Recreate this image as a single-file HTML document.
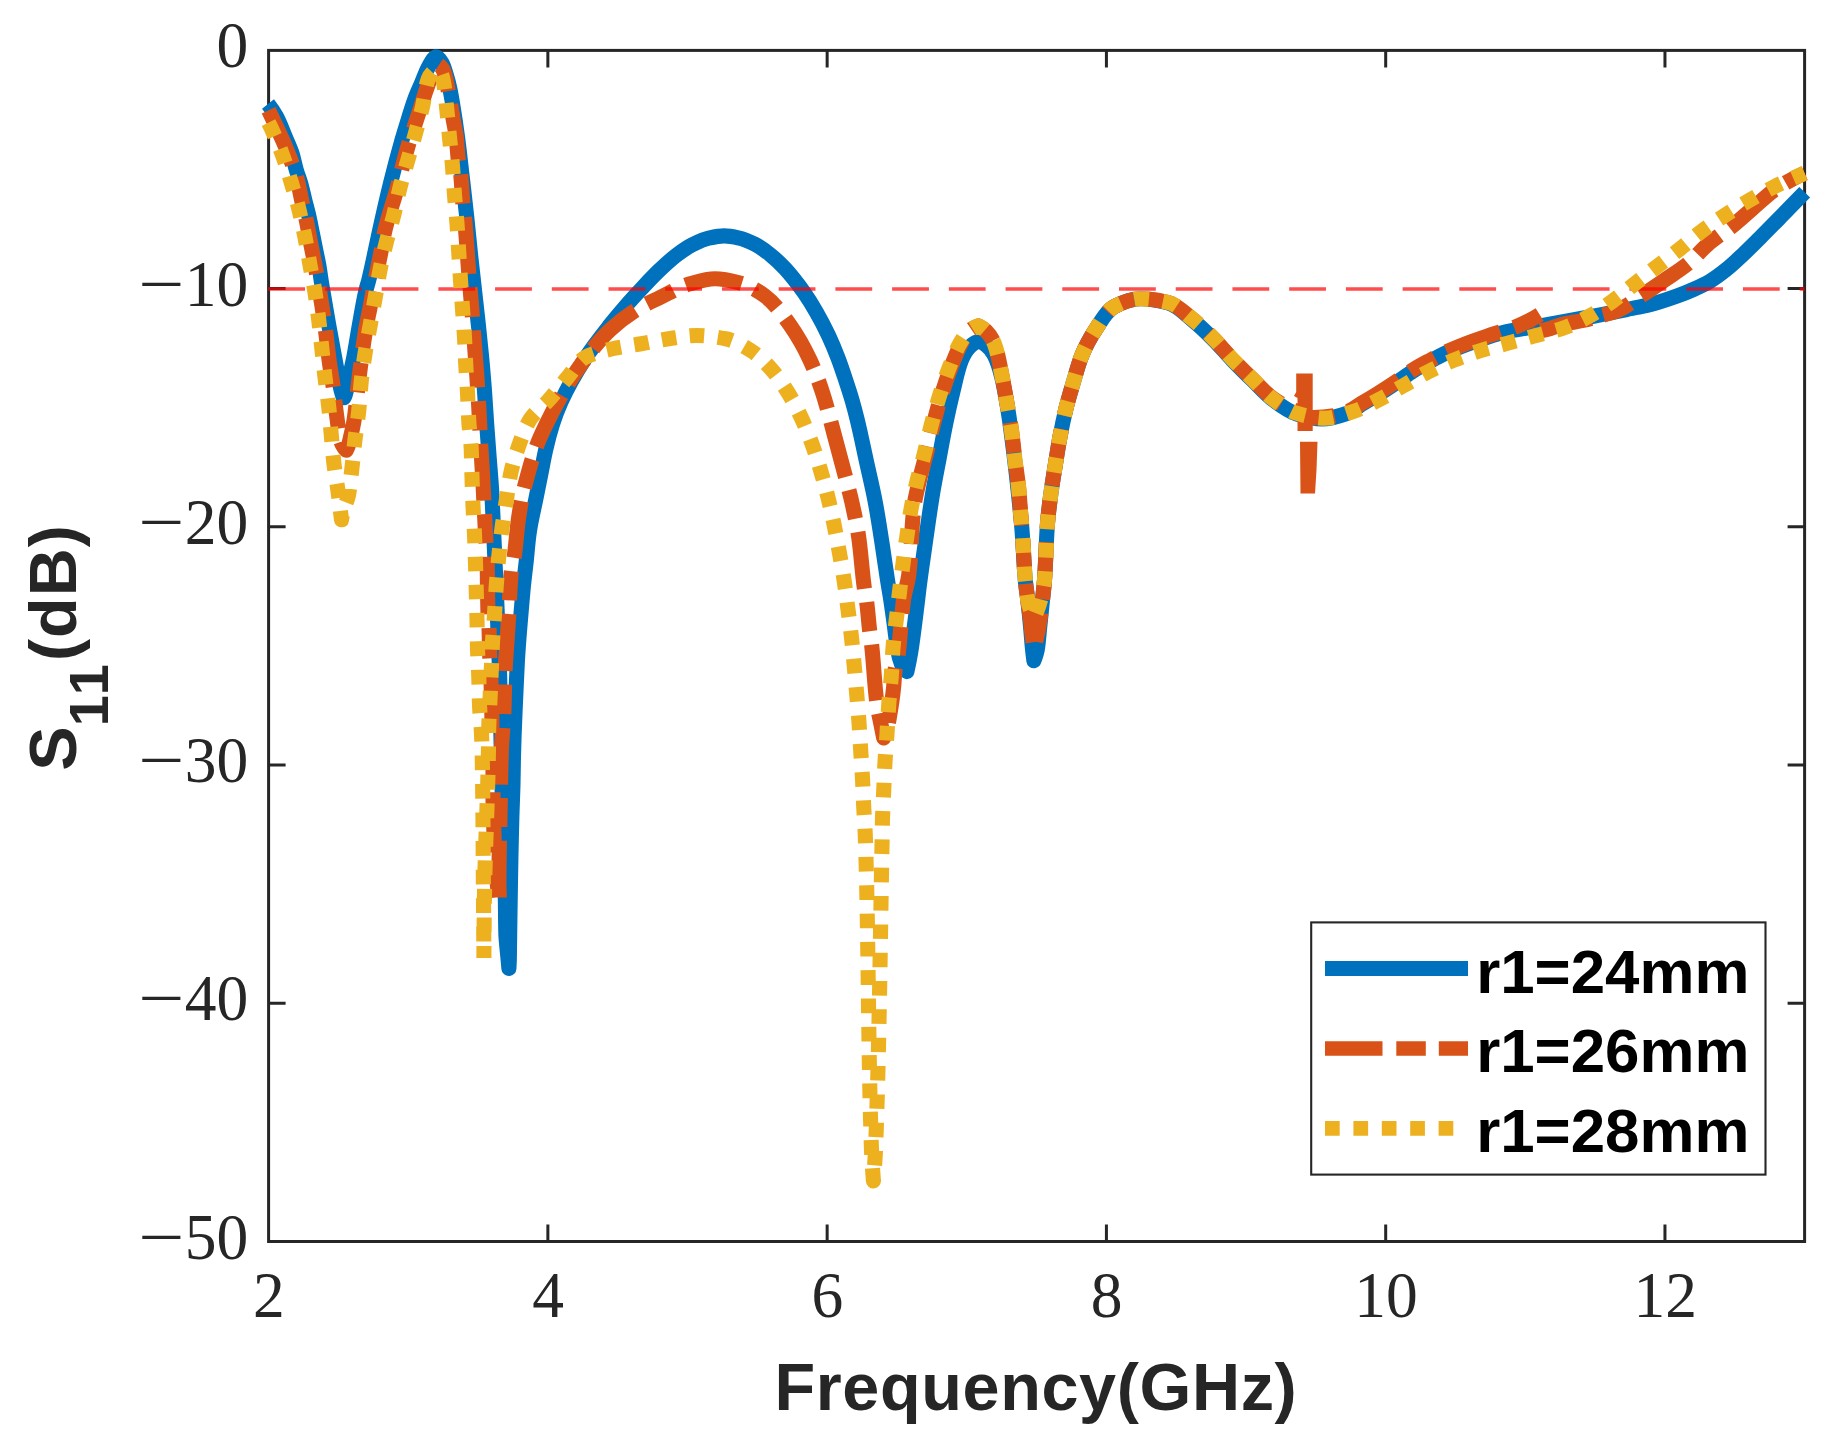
<!DOCTYPE html><html><head><meta charset="utf-8"><title>S11</title><style>html,body{margin:0;padding:0;background:#fff}svg{display:block}</style></head><body>
<svg width="1843" height="1448" viewBox="0 0 1843 1448">
<rect width="1843" height="1448" fill="#fff"/>
<defs><clipPath id="ax"><rect x="258.6" y="49.1" width="1556.0" height="1193.6999999999998"/></clipPath></defs>
<rect x="268.6" y="50.4" width="1536.0" height="1191.1" fill="none" stroke="#262626" stroke-width="3.0"/>
<path d="M547.87,1241.5 v-17 M547.87,50.4 v17 M827.15,1241.5 v-17 M827.15,50.4 v17 M1106.42,1241.5 v-17 M1106.42,50.4 v17 M1385.69,1241.5 v-17 M1385.69,50.4 v17 M1664.96,1241.5 v-17 M1664.96,50.4 v17 M268.6,1003.28 h17 M1804.6,1003.28 h-17 M268.6,765.06 h17 M1804.6,765.06 h-17 M268.6,526.84 h17 M1804.6,526.84 h-17 M268.6,288.62 h17 M1804.6,288.62 h-17" stroke="#262626" stroke-width="3.0" fill="none"/>
<g clip-path="url(#ax)" fill="none">
<path d="M268,104 C271.16,108.05 274.11,112.27 276.5,116.7 C279.91,123.02 282.38,130 285.2,136.7 C287.52,142.21 290.2,147.64 292,153.3 C293.73,158.74 294.7,164.49 296.3,170 C297.6,174.48 299.43,178.82 300.7,183.3 C302.26,188.8 303.42,194.44 304.8,200 C306.18,205.57 307.74,211.11 309,216.7 C310.24,222.21 311.28,227.76 312.4,233.3 C313.53,238.86 314.63,244.43 315.75,250 C316.87,255.57 318.14,261.11 319.1,266.7 C320.05,272.21 320.71,277.78 321.6,283.3 C322.01,285.87 322.46,288.43 322.9,291 C324.78,302.1 326.64,313.21 328.6,324.3 C330.57,335.44 332.63,346.57 334.7,357.7 C336.27,366.14 337.7,374.61 339.5,383 C340.25,386.51 340.92,390.1 342,393.5 C342.47,394.97 343.2,397.8 343.8,397.8 C344.4,397.8 345.14,394.97 345.6,393.5 C346.87,389.46 347.55,385.17 348.5,381 C350.27,373.24 352.16,365.5 353.7,357.7 C355.88,346.62 357.49,335.42 359.5,324.3 C361.51,313.18 363.27,301.98 365.8,291 C366.65,287.31 367.88,283.68 368.8,280 C371.13,270.63 373.05,261.14 375.1,251.7 C376.43,245.57 377.66,239.42 379,233.3 C382.66,216.6 386.41,199.9 390.5,183.3 C393.93,169.38 397.58,155.49 401.5,141.7 C402.93,136.68 404.46,131.69 406,126.7 C408.75,117.77 411.3,108.74 414.5,100 C416.57,94.35 419.13,88.85 421.5,83.3 C423.96,77.52 425.91,71.29 429,66 C430.94,62.68 433.76,56.7 436.3,56.7 C438.13,56.7 440.7,60.67 442,63 C443.95,66.5 445.07,70.95 446.3,75 C447.63,79.37 448.84,83.83 449.8,88.3 C450.86,93.26 451.67,98.29 452.5,103.3 C454.34,114.4 456.03,125.54 457.5,136.7 C459.26,150 460.67,163.36 462.2,176.7 C463.73,190.03 465.27,203.36 466.7,216.7 C468.13,230.03 469.38,243.37 470.8,256.7 C471.99,267.8 473.27,278.9 474.5,290 C475.77,301.43 477.09,312.86 478.3,324.3 C479.48,335.43 480.67,346.56 481.7,357.7 C482.72,368.79 483.68,379.89 484.5,391 C485.32,402.09 485.92,413.2 486.7,424.3 C487.48,435.44 488.37,446.57 489.2,457.7 C490.03,468.8 491.05,479.89 491.7,491 C492.35,502.09 492.78,513.2 493.3,524.3 C494.48,549.53 495.65,574.76 496.7,600 C497.77,625.83 498.98,651.66 499.7,677.5 C500.84,718.32 501.28,759.17 502.3,800 C503.16,834.2 504.81,868.39 505.4,902.6 C505.57,912.53 505.57,922.48 505.8,932.4 C506,940.71 507.18,949 507.9,957.3 C508.23,961.03 508.56,964.77 508.9,968.5 C509.06,965.67 509.23,962.83 509.3,960 C509.52,950.81 509.56,941.6 509.7,932.4 C509.86,921.27 510.02,910.13 510.2,899 C510.42,885.27 510.63,871.53 510.9,857.8 C511.18,843.87 511.51,829.93 511.9,816 C512.21,805 512.75,794 513,783 C513.17,775.33 513.23,767.67 513.4,760 C513.58,751.87 513.83,743.73 514.1,735.6 C514.38,727.3 514.75,719 515.1,710.7 C515.45,702.4 515.82,694.1 516.2,685.8 C516.58,677.53 516.93,669.26 517.4,661 C517.87,652.7 518.47,644.39 519.1,636.1 C519.73,627.79 520.48,619.5 521.2,611.2 C521.92,602.9 522.58,594.59 523.4,586.3 C524.22,578.02 525.32,569.77 526.2,561.5 C527.08,553.21 527.67,544.87 528.7,536.6 C529.21,532.49 529.89,528.38 530.6,524.3 C532.06,515.92 534.1,507.64 535.8,499.3 C537.5,490.97 539.13,482.63 540.8,474.3 C542.47,465.97 543.9,457.57 545.8,449.3 C547.72,440.9 549.91,432.49 552.5,424.3 C554.89,416.75 557.79,409.21 561,402 C567.65,387.05 576.16,372.54 585,358.75 C592.51,347.04 601.34,335.98 610,325 C615.06,318.57 620.33,312.28 625.7,306.1 C631.31,299.64 637.12,293.33 643,287.1 C648.59,281.17 654.19,275.2 660.1,269.6 C665.44,264.54 670.85,259.39 676.7,255 C681.9,251.1 687.41,247.18 693.2,244.3 C698.11,241.86 703.37,239.23 708.7,238.1 C713.7,237.04 719.03,235.9 724.2,235.9 C729.3,235.9 734.56,237.05 739.5,238.1 C744.83,239.24 750.13,241.82 755,244.3 C760.66,247.19 766,251.28 771,255.3 C775.78,259.13 780.27,263.54 784.5,268 C787.95,271.64 791.17,275.57 794.3,279.5 C797.81,283.91 801.22,288.45 804.4,293.1 C808.64,299.29 812.67,305.69 816.4,312.2 C820.65,319.62 824.68,327.25 828.3,335 C831.77,342.42 834.97,350.04 837.9,357.7 C840.38,364.19 842.6,370.8 844.8,377.4 C847.3,384.9 849.81,392.41 852,400 C853.91,406.62 855.67,413.3 857.3,420 C860.67,433.82 863.46,447.79 866.5,461.7 C869.53,475.56 872.91,489.37 875.5,503.3 C878.07,517.13 880.14,531.08 882.3,545 C884.11,556.65 885.67,568.35 887.5,580 C888.55,586.67 889.78,593.32 890.8,600 C891.88,607.05 892.83,614.13 893.8,621.2 C894.76,628.23 895.51,635.3 896.6,642.3 C897.42,647.55 898.17,652.93 899.5,658 C900.4,661.42 901.7,665.12 903.5,668 C904.33,669.33 905.6,670.5 906.9,671.6 C908.24,665.62 909.49,659.63 910.5,653.6 C911.91,645.18 912.98,636.68 914.1,628.2 C915.34,618.81 916.45,609.4 917.6,600 C918.14,595.57 918.64,591.13 919.2,586.7 C920.97,572.78 923.04,558.9 925,545 C926.32,535.66 927.62,526.33 929,517 C930.19,508.99 931.36,500.98 932.7,493 C934.66,481.3 937.01,469.66 939.2,458 C941.37,446.43 943.42,434.83 945.8,423.3 C948.1,412.16 950.57,401.04 953.3,390 C955.79,379.94 957.71,369.28 961.5,360 C963.45,355.24 966.43,349.81 970,346.5 C972.21,344.46 975.59,341.5 978.5,341.5 C980.94,341.5 983.91,343.52 986,345 C989.26,347.31 992.3,351.37 994.2,355 C997.62,361.53 999.85,369.54 1001.7,377 C1004.77,389.41 1006.78,402.28 1008.75,415 C1010.68,427.45 1012.2,439.99 1013.75,452.5 C1015.09,463.32 1016.33,474.16 1017.5,485 C1019.11,499.99 1020.8,514.98 1022,530 C1023.33,546.64 1023.8,563.39 1025.3,580 C1025.9,586.68 1027.04,593.33 1027.8,600 C1028.87,609.39 1029.83,618.79 1030.7,628.2 C1031.28,634.46 1031.68,640.74 1032.3,647 C1032.75,651.57 1033.31,656.14 1033.9,660.7 C1035.29,656.98 1036.65,653.23 1037.3,649.4 C1038.47,642.48 1038.85,635.27 1039.6,628.2 C1040.59,618.8 1041.55,609.4 1042.5,600 C1043.18,593.33 1044.01,586.68 1044.5,580 C1045.87,561.14 1046.08,542.15 1047.5,523.3 C1048.23,513.58 1049.54,503.87 1050.8,494.2 C1052.08,484.44 1053.75,474.72 1055.3,465 C1056.81,455.56 1058.25,446.09 1060,436.7 C1061.71,427.5 1063.61,418.29 1065.8,409.2 C1067.96,400.23 1070.67,391.36 1073.3,382.5 C1075.95,373.56 1078.3,364.36 1081.7,355.8 C1085.36,346.59 1090.39,337.48 1095.8,329.2 C1101.02,321.21 1106.8,310.78 1114.2,306.7 C1121.2,302.84 1131.59,298.7 1140.5,298.7 C1149.62,298.7 1159.9,300.75 1168.3,303 C1177.13,305.37 1184.88,313.85 1192.5,320 C1199.81,325.9 1206.64,332.61 1213.3,339.3 C1219.96,345.99 1225.96,353.37 1232.5,360.2 C1239.02,367 1245.75,373.62 1252.5,380.2 C1259.35,386.88 1265.77,394.37 1273.3,400 C1280.45,405.34 1288.37,411.45 1296.7,414 C1304.57,416.41 1313.59,419 1322,419 C1330.25,419 1339.04,416.13 1346.7,413.5 C1352.58,411.48 1357.76,406.76 1363.3,403.4 C1368.86,400.03 1374.49,396.76 1380,393.3 C1385.63,389.77 1391.19,386.12 1396.7,382.4 C1402.29,378.62 1407.6,374.38 1413.3,370.8 C1418.7,367.4 1424.37,364.34 1430,361.3 C1435.5,358.32 1441.03,355.33 1446.7,352.7 C1452.14,350.18 1457.71,347.87 1463.3,345.7 C1471.17,342.64 1479.15,339.73 1487.2,337.2 C1493.63,335.18 1500.13,333.15 1506.7,331.7 C1519.46,328.89 1532.58,327.3 1545.5,325 C1561.45,322.16 1577.39,319.26 1593.3,316.2 C1604.45,314.05 1615.56,311.72 1626.7,309.5 C1632.23,308.4 1637.81,307.46 1643.3,306.2 C1648.91,304.92 1654.48,303.34 1660,301.7 C1665.61,300.04 1671.2,298.2 1676.7,296.2 C1682.3,294.17 1687.86,291.92 1693.3,289.5 C1698.96,286.97 1704.7,284.33 1710,281.2 C1715.84,277.75 1721.38,273.47 1726.7,269.2 C1732.49,264.55 1737.87,259.31 1743.3,254.2 C1748.98,248.85 1754.47,243.31 1760,237.8 C1767.73,230.1 1775.35,222.29 1783,214.5 C1790.25,207.12 1797.48,199.72 1804.7,192.3" stroke="#0072BD" stroke-width="15.1" stroke-linejoin="round"/>
<path d="M268.6,110.2 C271.07,115.46 273.54,120.73 276,126 C278.34,131 280.79,135.95 283,141 C285.46,146.61 287.84,152.27 290,158 C292.33,164.17 294.78,170.37 296.5,176.7 C298.87,185.41 300.27,194.46 302.3,203.3 C303.39,208.04 304.67,212.75 305.7,217.5 C307.67,226.62 309.23,235.83 311,245 C312.83,254.43 314.8,263.84 316.5,273.3 C318.36,283.61 320.1,293.95 321.7,304.3 C323.16,313.75 324.56,323.22 325.8,332.7 C327.04,342.12 327.93,351.59 329.2,361 C330.4,369.92 332.1,378.78 333.3,387.7 C334.57,397.11 335.39,406.6 336.7,416 C337.86,424.36 338.61,433.13 340.8,441 C341.43,443.25 342.73,445.49 344,447.5 C344.62,448.49 345.4,449.41 346.2,450.3 C346.87,449.06 347.53,447.8 348,446.5 C349.21,443.13 349.98,439.52 350.8,436 C352.09,430.48 353.35,424.9 354.2,419.3 C355.62,409.94 356.37,400.43 357.5,391 C358.57,382 359.62,372.99 360.8,364 C362.33,352.32 363.85,340.61 365.8,329 C367,321.87 368.63,314.81 370,307.7 C371.78,298.48 373.39,289.22 375.2,280 C377.05,270.55 379.2,261.16 381,251.7 C382.17,245.58 383.01,239.37 384.3,233.3 C387.89,216.41 394.27,200.09 398.5,183.3 C399.68,178.62 400.63,173.88 401.8,169.2 C404.1,159.99 406.55,150.78 409.3,141.7 C410.83,136.66 412.65,131.71 414.3,126.7 C416.9,118.81 419.46,110.91 422,103 C423.18,99.34 424.27,95.64 425.5,92 C426.48,89.08 427.56,86.2 428.6,83.3 C429.89,79.7 431.09,76.05 432.5,72.5 C433.67,69.56 434.95,66.67 436.3,63.8 C437.24,64.1 438.14,64.51 438.9,65 C440.28,65.9 441.64,67.39 442.5,68.8 C443.59,70.61 444.39,72.88 445,75 C445.77,77.69 446.24,80.53 446.8,83.3 C447.92,88.85 448.91,94.43 449.9,100 C451.08,106.66 452.15,113.34 453.3,120 C454.26,125.57 455.52,131.1 456.2,136.7 C457.13,144.42 457.38,152.27 458.3,160 C458.9,165.02 460.28,169.97 460.8,175 C461.77,184.38 461.94,193.89 462.8,203.3 C463.23,208.04 464.04,212.76 464.5,217.5 C466.32,236.05 467.3,254.71 468.8,273.3 C469.73,284.77 470.79,296.23 471.7,307.7 C472.58,318.8 473.37,329.9 474.2,341 C475.03,352.1 475.94,363.2 476.7,374.3 C477.46,385.43 478.17,396.56 478.8,407.7 C479.43,418.8 479.89,429.9 480.5,441 C481.11,452.1 481.89,463.2 482.5,474.3 C483.11,485.43 483.63,496.57 484.2,507.7 C484.8,519.47 485.31,531.24 486,543 C486.29,548 486.84,553 487,558 C487.59,576.31 487.41,594.69 488,613 C488.16,618 488.8,623 489,628 C489.4,637.86 489.44,647.74 489.8,657.6 C490.06,664.74 490.65,671.86 490.9,679 C491.36,692.33 491.9,705.66 491.9,719 C491.9,726.67 491.9,734.34 491.9,742 C491.9,751.34 493,760.66 493,770 C493,779.33 493,788.67 493,798 C493,808 493.51,818 493.8,828 C494.07,837.33 494.25,846.68 494.7,856 C495.13,864.92 496.35,873.8 497.2,882.7 C497.89,889.97 498.59,897.23 499.3,904.5 C499.3,902.2 499.3,899.9 499.3,897.6 C499.3,893.4 498.9,889.2 498.9,885 C498.9,870.34 499.15,855.66 499.4,841 C499.49,836 499.69,831 499.8,826 C500,817.33 500.14,808.67 500.3,800 C500.4,794.33 500.49,788.67 500.6,783 C500.82,772 501.01,760.99 501.4,750 C501.82,737.99 503.32,726.01 503.8,714 C504.37,699.91 504.43,685.79 505,671.7 C505.39,662.03 506.27,652.37 506.9,642.7 C507.53,633.03 508.2,623.37 508.8,613.7 C509.68,599.6 509.9,585.36 511.3,571.4 C511.78,566.67 513.39,562.03 514.1,557.3 C515.95,544.96 516.6,532.38 518.3,520 C519.31,512.64 520.54,505.28 522,498 C523.7,489.5 525.98,481.06 528.3,472.7 C530.88,463.39 533.64,454.03 537,445 C539.62,437.96 542.92,431.08 546.2,424.3 C552.68,410.92 559.81,397.71 567.5,385 C572.15,377.31 577.15,369.7 582.5,362.5 C590.92,351.16 599.83,339.51 610,330 C618.95,321.62 629.39,313.83 640,307.5 C646.32,303.73 653.28,300.72 660,297.5 C669.91,292.74 679.6,286.64 690,283.75 C698.03,281.52 706.64,278.75 715,278.75 C723.31,278.75 732.1,280.94 740,283 C748.78,285.29 757.88,290.68 765,296 C774.68,303.23 782.8,314.68 790,325 C797.59,335.86 804.42,347.9 810,360 C814.82,370.45 818.92,381.5 822.5,392.5 C827.31,407.25 830.91,422.48 835,437.5 C838.39,449.98 841.77,462.47 845,475 C847.57,484.98 850.31,494.94 852.5,505 C854.85,515.77 857.19,526.61 858.75,537.5 C861.12,554.06 861.95,570.91 864.25,587.5 C864.9,592.15 865.98,596.75 866.6,601.4 C867.91,611.22 868.49,621.16 869.7,631 C870.22,635.24 871.01,639.46 871.5,643.7 C873.72,662.93 874.25,682.45 876.7,701.6 C877.79,710.12 879.85,718.54 881.5,727 C882.22,730.67 882.95,734.34 883.7,738 C884.86,735.38 885.95,732.72 886.7,730 C887.86,725.8 888.65,721.42 889.4,717.1 C891.1,707.3 892.59,697.4 893.6,687.5 C894.18,681.85 894.33,676.12 895,670.5 C895.57,665.76 897.24,661.13 897.9,656.4 C899.2,647.08 899.77,637.6 900.7,628.2 C901.63,618.8 902.23,609.32 903.5,600 C904.64,591.6 907.73,583.4 908.75,575 C911.49,552.48 911.29,529.23 914,506.7 C915.08,497.73 917.47,488.85 919.5,480 C921.49,471.35 924.05,462.82 926.2,454.2 C928.48,445.05 930.48,435.83 932.8,426.7 C935.22,417.2 937.68,407.68 940.5,398.3 C943.36,388.78 946.51,379.3 950,370 C953.39,360.97 956.88,351.79 961.3,343.3 C963.51,339.05 965.77,333.96 969,331 C971.37,328.83 974.69,326.99 978.3,325.8 C981.19,327.21 983.91,328.96 986,331 C989.32,334.25 992.48,338.92 994.2,343.3 C997.89,352.71 999.55,363.83 1001.7,374.2 C1003.59,383.31 1005.1,392.52 1006.7,401.7 C1008.44,411.69 1010.32,421.66 1011.7,431.7 C1012.99,441.1 1013.84,450.57 1015,460 C1016.16,469.44 1017.77,478.84 1018.7,488.3 C1019.57,497.18 1020.07,506.1 1020.8,515 C1021.35,521.67 1022.01,528.33 1022.5,535 C1023.6,549.99 1024,565.05 1025.3,580 C1025.88,586.68 1026.95,593.34 1027.8,600 C1028.74,607.34 1029.81,614.66 1030.7,622 C1031.34,627.33 1031.78,632.69 1032.5,638 C1033,641.68 1033.62,645.34 1034.3,649 C1034.68,646.83 1035.07,644.66 1035.5,642.5 C1036.44,637.72 1037.77,633 1038.6,628.2 C1040.22,618.87 1041.42,609.42 1042.5,600 C1043.27,593.35 1044.01,586.68 1044.5,580 C1045.87,561.14 1046.08,542.15 1047.5,523.3 C1048.23,513.58 1049.54,503.87 1050.8,494.2 C1052.08,484.44 1053.75,474.72 1055.3,465 C1056.81,455.56 1058.25,446.09 1060,436.7 C1061.71,427.5 1063.61,418.29 1065.8,409.2 C1067.96,400.23 1070.67,391.36 1073.3,382.5 C1075.95,373.56 1078.3,364.36 1081.7,355.8 C1085.36,346.59 1090.39,337.48 1095.8,329.2 C1101.02,321.21 1106.8,310.78 1114.2,306.7 C1121.2,302.84 1131.58,298.7 1140.5,298.7 C1149.6,298.7 1159.88,300.46 1168.3,302.5 C1177.12,304.63 1184.88,313.14 1192.5,319.2 C1199.82,325.02 1206.66,331.66 1213.3,338.3 C1219.97,344.97 1225.96,352.37 1232.5,359.2 C1239.02,366 1245.73,372.64 1252.5,379.2 C1259.32,385.81 1265.71,393.38 1273.3,398.7 C1280.17,403.52 1287.82,407.75 1296,411" stroke="#D95319" stroke-width="15.1" stroke-linejoin="round" stroke-dasharray="59.23 13.31 28.67 13.31 56.9 13.8 29.72 13.8 56.96 13.34 28.73 13.34 56 13.34 29.63 14.18 58.56 13.73 29.56 13.73 55.27 12.61 28.5 13.86 58.18 13.86 28.26 13.62 57.24 13.65 29.3 13.56 57.06 13.63 29.35 13.63 57.16 13.61 29.25 13.56 56.85 13.53 29.14 13.53 57.46 13.85 30.32 14.32 60.09 14.32 30.83 14.32 60.09 14.32 30.83 14.32 57.01 13.58 28.96 13.32 56.91 13.8 29.5 13.61 57.12 13.61 29.31 13.61 57.13 13.61 29.31 13.61 57.13 13.61 29.31 13.61 57.13 13.61 29.31 13.61 57.31 13.7 29.5 13.7 57.26 13.59 29.26 13.59 57.02 13.59 29.26 13.59 57.07 13.61 29.26 13.57 56 13.12 28.25 13.12 55.07 13.12 28.25 13.32 56.71 13.51 29.1 13.51 56.71 13.5 29.06 13.49 56.64 13.49 29.06 13.49 56.64 13.78 30.3 14.07 59.05 14.07 30.3 14.07 59.05 14.07 29.43 13.67 57.37 13.67 29.43 13.67 57.37 13.63 29.26 13.59 57.04 13.68 29.67 13.78 57.83 13.79 29.7 13.79 57.89 13.75"/>
<path d="M1305,417.8 C1309.34,417.8 1313.67,417.6 1318,417.4 C1322.01,417.21 1326.05,416.82 1330,416.3 C1335.64,415.56 1341.48,414.06 1346.7,412.2 C1352.59,410.11 1357.76,405.53 1363.3,402.2 C1368.86,398.86 1374.5,395.64 1380,392.2 C1385.63,388.68 1391.19,385.02 1396.7,381.3 C1402.29,377.52 1407.6,373.26 1413.3,369.7 C1418.7,366.33 1424.38,363.33 1430,360.3 C1435.51,357.33 1441.03,354.33 1446.7,351.7 C1452.14,349.18 1457.71,346.87 1463.3,344.7 C1471.17,341.64 1479.2,338.92 1487.2,336.2 C1491.45,334.75 1495.73,333.39 1500,332 C1504.66,330.49 1509.46,329.25 1514,327.5 C1522.97,324.05 1531.7,319.74 1540,314.5 L1540.4,330.8 C1543.64,330.21 1546.85,329.46 1550,328.6 C1553.96,327.52 1557.73,325.61 1561.7,324.6 C1568.66,322.83 1575.96,322.08 1583,320.5 C1588.71,319.22 1594.36,317.59 1600,316 C1605.76,314.37 1611.79,312.99 1617.2,310.8 C1625.9,307.28 1633.63,300.75 1641.7,295.5 C1649.42,290.48 1657.01,285.22 1664.6,280 C1672.27,274.72 1680.36,269.84 1687.5,264 C1694.78,258.04 1700.81,250.36 1708,244.2 C1711.36,241.32 1714.94,238.65 1718.5,236 C1722.2,233.25 1726.15,230.8 1729.8,228 C1737.43,222.14 1744.47,215.47 1751.8,209.2 C1759.17,202.9 1766.09,195.92 1773.9,190.3 C1777.62,187.62 1781.61,185.18 1785.6,182.9 C1791.76,179.39 1798.07,176.09 1804.6,173.2" stroke="#D95319" stroke-width="15.1" stroke-linejoin="round" stroke-dasharray="29.63 14.06 60.26 13.75 28.28 13.38 57.2 14.41 28.59 13.28 55.73 12.43 29.43 13.58 56.87 13.52 28.57 13.01 58.05 13.81 29.5 50"/>
<path d="M1296.2,373.6 H1312.7 V431 H1297.5 V398 L1294,396 L1296.2,392 Z M1300,441.8 H1317.5 L1316.5,470 L1315,493.5 H1300.5 Z" fill="#D95319" stroke="none"/>
<path d="M268.2,289 H1804.6" stroke="#FF0000" stroke-opacity="0.7" stroke-width="3.7" stroke-dasharray="36.8 19.92"/>
<path d="M268.5,122.6 C269.59,124.79 270.69,126.98 271.7,129.2 C275.57,137.67 279.33,146.26 282.5,155 C285.77,164.02 288.48,173.29 291.25,182.5 C293.87,191.21 296.57,199.93 298.75,208.75 C301.1,218.26 303.1,227.88 305,237.5 C306.81,246.64 308.33,255.83 310,265 C311.67,274.17 313.57,283.3 315,292.5 C316.42,301.63 317.64,310.82 318.75,320 C319.96,329.98 320.91,340 322,350 C323,359.17 323.93,368.34 325,377.5 C326.15,387.34 327.71,397.15 328.75,407 C329.72,416.15 330.42,425.33 331.25,434.5 C332.08,443.67 332.73,452.86 333.75,462 C334.84,471.7 336.72,481.32 338,491 C338.83,497.32 339.53,503.67 340.3,510 C340.7,513.27 341.1,516.53 341.5,519.8 C342,516.49 342.69,513.21 343.5,510 C344.7,505.25 347.35,500.76 348.3,496 C350.15,486.75 350.88,477.01 352,467.5 C353.09,458.18 353.9,448.82 355,439.5 C356.13,429.9 357.76,420.36 358.75,410.75 C359.76,400.94 360.22,391.06 361.25,381.25 C362.21,372.06 363.58,362.88 365,353.75 C366.43,344.55 368.33,335.42 370,326.25 C371.67,317.08 373.37,307.92 375,298.75 C376.7,289.17 378.12,279.53 380,270 C381.82,260.79 383.99,251.62 386.25,242.5 C388.54,233.28 391.46,224.22 393.75,215 C396.01,205.88 397.69,196.6 400,187.5 C402.23,178.69 405,170 407.5,161.25 C410,152.5 412.59,143.77 415,135 C417.59,125.59 420.29,116.19 422.5,106.7 C424.65,97.46 425.18,87.16 428.3,78.8 C429.2,76.38 431.14,73.89 433,72 C434.2,70.78 436,68.8 437.3,68.8 C438.65,68.8 440.25,71.44 441,73 C442.22,75.55 442.96,78.83 443.5,81.8 C445.08,90.47 445.75,99.46 446.7,108.3 C447.74,118.02 448.53,127.77 449.5,137.5 C450.46,147.09 451.7,156.65 452.5,166.25 C453.3,175.82 453.76,185.42 454.5,195 C455.24,204.59 456.31,214.16 457,223.75 C457.69,233.32 458.15,242.92 458.75,252.5 C459.32,261.67 459.89,270.84 460.5,280 C461.14,289.59 461.83,299.17 462.5,308.75 C463.17,318.33 463.97,327.91 464.5,337.5 C465,346.66 465.26,355.84 465.75,365 C466.24,374.17 467.02,383.33 467.5,392.5 C467.99,401.91 468.2,411.35 468.75,420.75 C469.31,430.35 470.85,439.9 471.25,449.5 C471.63,458.65 471.72,467.83 472,477 C472.29,486.58 472.6,496.17 473,505.75 C473.4,515.34 474.1,524.91 474.5,534.5 C474.9,544.08 475.21,553.67 475.5,563.25 C475.78,572.42 476.01,581.58 476.25,590.75 C476.51,600.33 476.8,609.92 477,619.5 C477.2,629.08 477.26,638.67 477.5,648.25 C477.73,657.42 478.45,666.58 478.75,675.75 C479.07,685.33 479.14,694.93 479.5,704.5 C479.87,714.31 481.09,724.09 481.5,733.9 C481.86,742.59 482.17,751.3 482.3,760 C483.02,806.65 483.15,853.33 483.5,900 C483.65,919.37 483.78,938.73 483.9,958.1 C483.96,938.73 484.16,919.36 484.4,900 C484.99,851.26 487.6,802.54 488.4,753.8 C488.55,744.87 488.57,735.93 488.75,727 C488.94,717.83 489.59,708.67 490,699.5 C490.43,689.92 490.83,680.33 491.25,670.75 C491.67,661.17 491.98,651.58 492.5,642 C493,632.83 493.89,623.67 494.5,614.5 C495.14,604.92 495.56,595.32 496.25,585.75 C496.94,576.16 497.81,566.57 498.75,557 C499.69,547.4 500.75,537.81 502,528.25 C503.2,519.06 504.79,509.91 506.25,500.75 C507.71,491.58 508.85,482.29 510.75,473.25 C512.7,463.96 515.63,454.72 518.75,445.75 C521.86,436.81 525.21,427.18 530,419.5 C534.54,412.22 542.74,406.7 548.75,400 C555.25,392.74 561.16,384.92 567.5,377.5 C573.25,370.77 578.12,361.35 585,357.5 C592.47,353.32 603.18,350.86 612.5,348.75 C621.92,346.62 631.67,345.45 641.25,343.75 C650.42,342.12 659.54,340.05 668.75,338.75 C678.12,337.43 687.58,335.5 697,335.5 C706.5,335.5 716.44,337.04 725.5,338.75 C734.3,340.41 743.2,345.68 750.75,350.5 C758.57,355.49 765.77,362.89 772,370 C777.97,376.81 783.23,384.7 788,392.5 C792.89,400.5 797.3,408.97 801.25,417.5 C805.21,426.05 808.79,434.88 812,443.75 C815.12,452.38 817.89,461.19 820.5,470 C823.2,479.1 825.74,488.28 828,497.5 C830.28,506.78 832.33,516.14 834.25,525.5 C836.14,534.72 837.84,543.98 839.5,553.25 C841.17,562.57 842.86,571.89 844.25,581.25 C845.65,590.64 846.79,600.08 848,609.5 C849.2,618.83 850.49,628.15 851.5,637.5 C852.54,647.07 853.37,656.66 854.25,666.25 C855.12,675.66 855.96,685.08 856.75,694.5 C857.54,703.83 858.35,713.16 859,722.5 C859.66,732.08 860.15,741.67 860.75,751.25 C861.32,760.42 862.03,769.58 862.5,778.75 C863,788.33 863.28,797.92 863.75,807.5 C864.21,816.9 864.99,826.3 865.3,835.7 C868.8,940.38 867.87,1045.35 871.5,1150 C871.86,1160.34 872.73,1170.67 873.4,1181 C874.14,1170.67 875.11,1160.34 875.5,1150 C879.33,1048.8 880.04,947.34 882,846 C882.18,836.92 882.27,827.83 882.5,818.75 C882.75,809.16 883.33,799.58 883.75,790 C884.16,780.67 884.49,771.33 885,762 C885.52,752.58 886.39,743.17 887,733.75 C887.63,724 888.05,714.24 888.75,704.5 C889.42,695.07 890.56,685.68 891.25,676.25 C891.94,666.84 892.24,657.39 893,648 C893.76,638.64 895.17,629.33 896.25,620 C897.33,610.67 898.38,601.33 899.5,592 C900.63,582.58 901.76,573.16 903,563.75 C904.25,554.32 905.61,544.91 907,535.5 C908.36,526.32 909.61,517.12 911.25,508 C912.86,499.04 914.89,490.11 917,481.25 C919.16,472.18 921.92,463.24 924.2,454.2 C926.51,445.06 928.45,435.82 930.8,426.7 C933.25,417.19 935.83,407.69 938.7,398.3 C941.61,388.79 944.74,379.28 948.3,370 C951.77,360.95 955.26,351.58 960,343.3 C962.48,338.97 965.38,334.05 969,331 C971.53,328.87 974.79,327.07 978.3,325.8 C981.19,327.21 983.91,328.96 986,331 C989.32,334.25 992.48,338.92 994.2,343.3 C997.89,352.71 999.55,363.83 1001.7,374.2 C1003.59,383.31 1005.1,392.52 1006.7,401.7 C1008.44,411.69 1010.32,421.66 1011.7,431.7 C1012.99,441.1 1013.84,450.57 1015,460 C1016.16,469.44 1017.77,478.84 1018.7,488.3 C1019.57,497.18 1020.07,506.1 1020.8,515 C1021.35,521.67 1022.01,528.33 1022.5,535 C1023.6,549.99 1024,565.05 1025.3,580 C1025.88,586.68 1026.57,593.52 1027.8,600 C1028.94,605.99 1031.41,611.83 1034.2,617.5 C1036.72,611.78 1038.95,605.95 1040.5,600 C1042.2,593.47 1043.88,586.72 1044.5,580 C1046.23,561.3 1046.08,542.15 1047.5,523.3 C1048.23,513.58 1049.54,503.87 1050.8,494.2 C1052.08,484.44 1053.75,474.72 1055.3,465 C1056.81,455.56 1058.25,446.09 1060,436.7 C1061.71,427.5 1063.61,418.29 1065.8,409.2 C1067.96,400.23 1070.67,391.36 1073.3,382.5 C1075.95,373.56 1078.3,364.36 1081.7,355.8 C1085.36,346.59 1090.39,337.48 1095.8,329.2 C1101.02,321.21 1106.8,310.78 1114.2,306.7 C1121.2,302.84 1131.58,298.7 1140.5,298.7 C1149.6,298.7 1159.88,300.46 1168.3,302.5 C1177.12,304.63 1184.88,313.14 1192.5,319.2 C1199.82,325.02 1206.66,331.66 1213.3,338.3 C1219.97,344.97 1225.96,352.37 1232.5,359.2 C1239.02,366 1245.77,372.6 1252.5,379.2 C1259.37,385.93 1265.76,393.52 1273.3,399.2 C1280.43,404.58 1288.36,410.92 1296.7,413.3 C1305.47,415.8 1315.63,418.3 1325,418.3 C1334.22,418.3 1343.63,414.51 1352.5,411.7 C1361.38,408.88 1369.9,404.25 1378.3,400 C1386.83,395.69 1394.96,390.52 1403.3,385.8 C1411.63,381.09 1419.78,375.99 1428.3,371.7 C1436.74,367.46 1445.42,363.51 1454.2,360 C1462.82,356.55 1471.62,353.34 1480.5,350.6 C1489.39,347.86 1498.5,345.74 1507.5,343.3 C1516.67,340.81 1525.83,338.3 1535,335.8 C1544.17,333.3 1553.59,331.35 1562.5,328.3 C1571.34,325.28 1580.05,321.1 1588.3,316.7 C1596.41,312.38 1604.15,307.02 1611.7,301.7 C1619.44,296.24 1626.7,290.03 1634.2,284.2 C1641.7,278.37 1649.18,272.51 1656.7,266.7 C1664.28,260.84 1671.99,255.14 1679.5,249.2 C1686.75,243.47 1693.62,237.22 1701,231.7 C1708.56,226.04 1716.47,220.75 1724.4,215.6 C1732.46,210.36 1740.68,205.32 1749,200.5 C1757.15,195.78 1765.37,191.06 1773.8,186.9 C1781.97,182.87 1790.42,179.33 1798.8,175.7 C1800.76,174.85 1802.73,174.03 1804.7,173.2" stroke="#EDB120" stroke-width="15.1" stroke-linejoin="round" stroke-dasharray="14.9 13.89 14.9 13.89 14.65 13.41 14.39 13.41 14.39 13.41 14.39 13.41 14.61 13.82 14.83 13.82 14.83 13.82 14.83 13.82 14.83 13.82 14.82 13.8 14.81 13.8 14.37 12.98 13.93 12.98 14.29 13.65 14.65 13.65 14.65 13.65 14.65 13.65 14.71 13.76 14.76 13.76 14.76 13.76 14.76 13.76 14.76 13.76 14.75 13.73 14.73 13.73 14.73 13.73 14.73 13.73 14.62 13.52 14.5 13.52 14.7 13.88 14.81 13.73 14.73 13.73 14.73 13.73 14.73 13.73 14.71 13.7 14.7 13.7 14.7 13.7 14.7 13.7 14.7 13.7 14.74 13.77 14.77 13.77 14.77 13.77 14.77 13.77 14.77 13.77 14.77 13.77 14.64 13.53 14.52 13.53 14.52 13.53 14.52 13.53 14.65 13.77 14.78 13.77 14.78 13.77 14.78 13.77 14.78 13.78 14.79 13.78 14.79 13.78 14.79 13.78 14.79 13.78 14.79 13.78 14.79 13.78 14.79 13.78 2.6 0.8 11.39 13.78 14.79 13.78 14.79 13.78 14.79 13.78 14.79 13.78 14.79 13.78 14.79 13.78 14.59 13.41 14.39 13.41 14.39 13.41 14.39 13.41 14.68 13.94 14.96 13.94 14.96 13.94 14.96 13.94 14.77 13.59 14.59 13.59 14.59 13.59 14.59 13.59 14.59 13.59 14.59 13.59 14.59 13.59 14.59 13.59 14.54 13.52 14.5 13.52 14.5 13.52 14.54 13.59 14.58 13.59 14.58 13.59 14.89 14.16 15.19 14.16 15.19 14.16 14.77 13.37 14.34 13.37 14.34 13.37 14.34 13.37 14.51 13.68 14.68 13.68 14.68 13.68 14.68 13.68 14.69 13.7 14.7 13.7 14.7 13.7 14.7 13.7 14.68 13.66 14.66 13.66 14.66 13.66 14.66 13.66 14.66 13.66 14.66 13.66 14.66 13.66 14.66 13.66 14.66 13.66 14.66 13.66 14.66 13.66 14.66 13.66 14.66 13.66 14.66 13.66 14.66 13.66 14.66 13.66 14.66 13.66 14.66 13.66 14.66 13.66 14.66 13.66 14.66 13.66 14.66 13.66 14.66 13.66 14.66 13.66 14.66 13.66 14.66 13.66 14.66 13.66 14.66 13.66 14.69 13.73 14.73 13.73 14.73 13.73 14.73 13.73 14.79 13.85 14.86 13.85 14.66 13.48 14.46 13.48 14.46 13.48 14.51 13.57 14.57 13.57 14.57 13.57 14.84 14.09 15.12 14.09 15.12 14.09 14.7 13.31 14.28 13.31 14.39 13.51 14.5 13.51 14.74 13.97 14.99 13.97 14.99 13.97 14.85 13.72 14.72 13.72 14.72 13.72 14.72 13.72 14.72 13.72 14.72 13.72 14.72 13.72 14.72 13.72 14.72 13.72 14.72 13.72 14.82 13.9 14.91 13.9 14.91 13.9 14.86 13.81 14.82 13.81 14.82 13.81 14.83 13.83 14.84 13.83 14.86 13.88 14.89 13.88 14.75 13.61 14.69 13.77 14.78 13.77 14.78 13.77 14.67 13.57 14.56 13.57 14.63 13.69 14.69 13.69 14.78 13.85 14.86 13.85 14.73 13.61 14.6 13.61 14.6 13.61 14.6 13.61 14.66 13.71 14.71 13.71 14.66 13.61 14.6 13.61 14.71 13.8 14.81 13.8 14.65 13.51 14.5 13.51 14.65 13.8 14.81 13.8 14.5 13.22 14.44 50"/>
</g>
<g font-family="'Liberation Serif', serif" font-size="65.5" fill="#262626">
<text transform="translate(268.9,1317.3) scale(0.97,1)" text-anchor="middle">2</text>
<text transform="translate(548.2,1317.3) scale(0.97,1)" text-anchor="middle">4</text>
<text transform="translate(827.4,1317.3) scale(0.97,1)" text-anchor="middle">6</text>
<text transform="translate(1106.7,1317.3) scale(0.97,1)" text-anchor="middle">8</text>
<text transform="translate(1386.0,1317.3) scale(0.97,1)" text-anchor="middle">10</text>
<text transform="translate(1665.3,1317.3) scale(0.97,1)" text-anchor="middle">12</text>
<text transform="translate(248.2,67.4) scale(0.97,1)" text-anchor="end">0</text>
<text transform="translate(248.2,305.6) scale(0.97,1)" text-anchor="end">10</text>
<text transform="translate(161.2,305.6) scale(1.25,1)" text-anchor="middle">−</text>
<text transform="translate(248.2,543.8) scale(0.97,1)" text-anchor="end">20</text>
<text transform="translate(161.2,543.8) scale(1.25,1)" text-anchor="middle">−</text>
<text transform="translate(248.2,782.1) scale(0.97,1)" text-anchor="end">30</text>
<text transform="translate(161.2,782.1) scale(1.25,1)" text-anchor="middle">−</text>
<text transform="translate(248.2,1020.3) scale(0.97,1)" text-anchor="end">40</text>
<text transform="translate(161.2,1020.3) scale(1.25,1)" text-anchor="middle">−</text>
<text transform="translate(248.2,1258.5) scale(0.97,1)" text-anchor="end">50</text>
<text transform="translate(161.2,1258.5) scale(1.25,1)" text-anchor="middle">−</text>
</g>
<g font-family="'Liberation Sans', sans-serif" font-weight="bold" fill="#262626" style="font-kerning:none">
<text x="1035.9" y="1410.4" font-size="66.6" letter-spacing="0.62" text-anchor="middle">Frequency(GHz)</text>
<text transform="translate(75.5,770.7) rotate(-90)" font-size="66.6">S<tspan font-size="56" dy="32">11</tspan><tspan dy="-32" dx="3" letter-spacing="0.9">(dB)</tspan></text>
</g>
<rect x="1311.2" y="922.4" width="454.3" height="252.2" fill="#fff" stroke="#262626" stroke-width="2.1"/>
<path d="M1325,968.5 H1468" stroke="#0072BD" stroke-width="15" fill="none"/>
<path d="M1325,1048.5 H1468" stroke="#D95319" stroke-width="14.5" stroke-dasharray="57.5 13.8 29.5 13 29.2 100" fill="none"/>
<path d="M1325,1128.3 H1468" stroke="#EDB120" stroke-width="14.7" stroke-dasharray="14.7 13.7 14.7 13.7 14.7 13.7 14.7 13.7 14.7 100" fill="none"/>
<g font-family="'Liberation Sans', sans-serif" font-weight="bold" font-size="61.8" fill="#000">
<text x="1476.2" y="992.8">r1=24mm</text>
<text x="1476.2" y="1072.4">r1=26mm</text>
<text x="1476.2" y="1152.0">r1=28mm</text>
</g>
</svg></body></html>
